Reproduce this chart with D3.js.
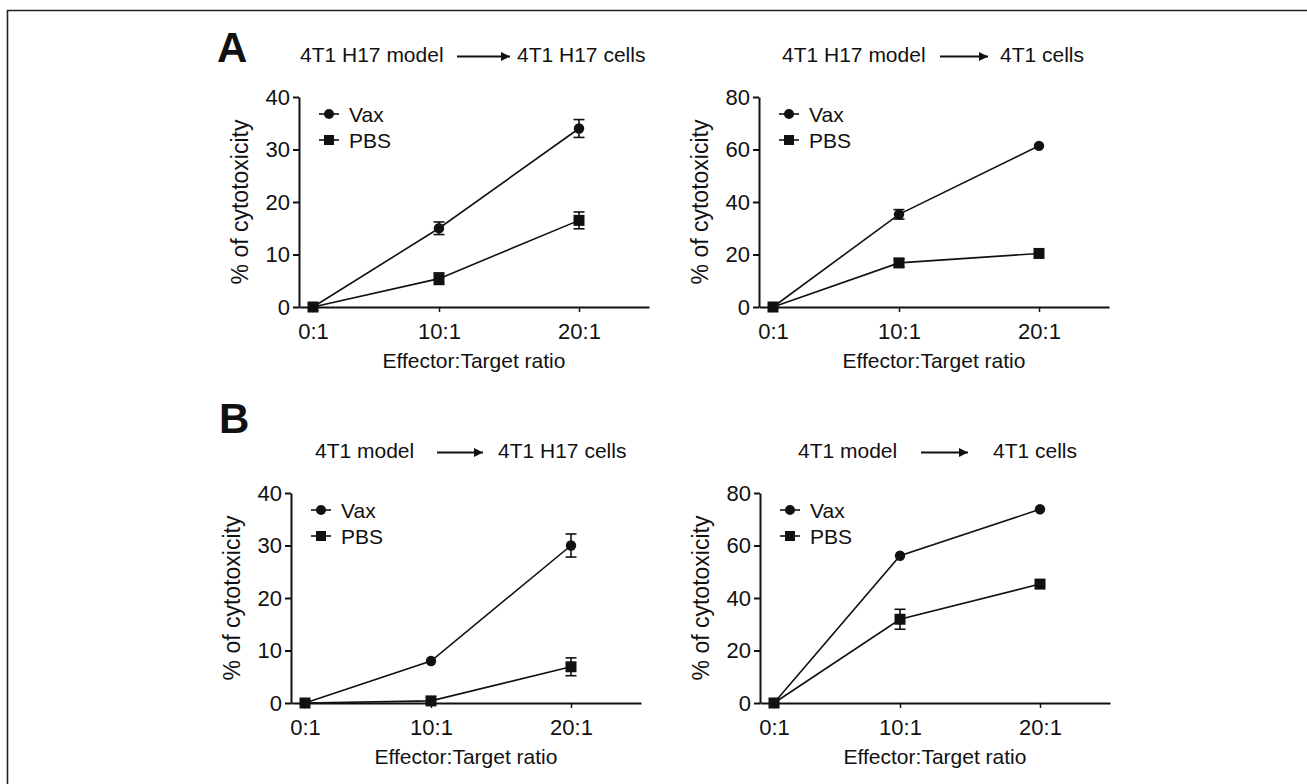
<!DOCTYPE html>
<html>
<head>
<meta charset="utf-8">
<script src="https://cdn.jsdelivr.net/npm/d3@7"></script>
<style>
  body { margin: 0; background: #fff; }
  text { font-family: "Liberation Sans", Arial, sans-serif; fill: #111; }
</style>
</head>
<body>
<div id="vis"></div>
<script>
// values
const ratioLabels = ['0:1', '10:1', '20:1'];
const ratioValues = [1, 10, 20];
const seriesNames = ['Vax', 'PBS'];
const modelNames = ['4T1 H17 model', '4T1 H17 model', '4T1 model', '4T1 model'];
const cellNames = ['4T1 H17 cells', '4T1 cells', '4T1 H17 cells', '4T1 cells'];
const yTicks40 = [0, 10, 20, 30, 40];
const yTicks80 = [0, 20, 40, 60, 80];

const vaxMean = [[0, 15.0, 34.0], [0, 35.3, 61.4], [0, 8.0, 30.0], [0, 56.1, 73.8]];
const vaxErr  = [[0, 1.2, 1.7],   [0, 1.8, 0],     [0, 0, 2.2],   [0, 0, 0]];
const pbsMean = [[0, 5.4, 16.5],  [0, 16.8, 20.4], [0, 0.4, 6.9], [0, 31.9, 45.3]];
const pbsErr  = [[0, 1.1, 1.6],   [0, 1.6, 0],     [0, 0, 1.7],   [0, 3.8, 0]];

// layout of the four panels (axis origin, title pieces)
let layout = [
  { x0: 299, y0: 307, ticks: yTicks40, tl: 1,  a1: 158, a2: 211, tr: 218 },
  { x0: 759, y0: 307, ticks: yTicks80, tl: 23, a1: 181, a2: 229, tr: 241 },
  { x0: 291, y0: 703, ticks: yTicks40, tl: 24, a1: 146, a2: 192, tr: 207 },
  { x0: 760, y0: 703, ticks: yTicks80, tl: 38, a1: 161, a2: 208, tr: 233 }
];
let pw = 350, ph = 210;

let svg = d3.select('#vis')
  .append('svg')
  .attr('width', 1307)
  .attr('height', 784)
  .style('display', 'block');

// frame: top and left rules
svg.append('line').attr('x1', 7).attr('x2', 1307).attr('y1', 10.5).attr('y2', 10.5)
  .attr('stroke', '#222').attr('stroke-width', 1.6);
svg.append('line').attr('x1', 7.5).attr('x2', 7.5).attr('y1', 10).attr('y2', 784)
  .attr('stroke', '#222').attr('stroke-width', 1.6);

// panel letters
svg.append('text').attr('x', 217).attr('y', 62).text('A')
  .style('font-size', '42px').style('font-weight', 'bold');
svg.append('text').attr('x', 219).attr('y', 433).text('B')
  .style('font-size', '42px').style('font-weight', 'bold');

svg.append('defs').append('marker')
  .attr('id', 'head')
  .attr('viewBox', '0 0 10 10')
  .attr('refX', 10).attr('refY', 5)
  .attr('markerWidth', 11).attr('markerHeight', 9)
  .attr('markerUnits', 'userSpaceOnUse')
  .attr('orient', 'auto')
  .append('path').attr('d', 'M0,0L10,5L0,10Z').attr('fill', '#111');

layout.forEach(function (p, i) {
  let yMax = p.ticks[p.ticks.length - 1];
  let x = d3.scaleLinear().domain([0, 25]).range([0, pw]);
  let y = d3.scaleLinear().domain([0, yMax]).range([ph, 0]);

  let g = svg.append('g').attr('transform', 'translate(' + p.x0 + ',' + (p.y0 - ph) + ')');

  // title with arrow
  let ty = -35;
  g.append('text').attr('x', p.tl).attr('y', ty).text(modelNames[i]).style('font-size', '21px');
  g.append('line').attr('x1', p.a1).attr('x2', p.a2).attr('y1', ty - 5.5).attr('y2', ty - 5.5)
    .attr('stroke', '#111').attr('stroke-width', 1.8).attr('marker-end', 'url(#head)');
  g.append('text').attr('x', p.tr).attr('y', ty).text(cellNames[i]).style('font-size', '21px');

  // axes
  let xAxis = d3.axisBottom(x).tickValues(ratioValues)
    .tickFormat(function (d, k) { return ratioLabels[k]; })
    .tickSize(5).tickPadding(11).tickSizeOuter(0);
  let yAxis = d3.axisLeft(y).tickValues(p.ticks).tickSize(6).tickPadding(3).tickSizeOuter(0);

  let gx = g.append('g').attr('transform', 'translate(0,' + ph + ')').call(xAxis);
  let gy = g.append('g').call(yAxis);
  [gx, gy].forEach(function (a) {
    a.selectAll('path, line').attr('stroke', '#111').attr('stroke-width', 2);
    a.selectAll('text').style('font-size', '22px').attr('fill', '#111');
    a.attr('font-family', null);
  });
  gx.selectAll('.tick line').attr('stroke-width', 1.5);

  g.append('text').attr('x', pw / 2).attr('y', ph + 61).attr('text-anchor', 'middle')
    .text('Effector:Target ratio').style('font-size', '21px');
  g.append('text').attr('transform', 'translate(-51,' + (ph / 2) + ') rotate(-90)')
    .attr('text-anchor', 'middle').text('% of cytotoxicity').style('font-size', '23px');

  // series
  let series = [
    { mean: vaxMean[i], err: vaxErr[i], shape: 'circle' },
    { mean: pbsMean[i], err: pbsErr[i], shape: 'square' }
  ];
  let line = d3.line().x(function (d) { return x(d.x); }).y(function (d) { return y(d.v); });

  series.forEach(function (s) {
    let pts = ratioValues.map(function (r, k) { return { x: r, v: s.mean[k], e: s.err[k] }; });
    g.append('path').datum(pts).attr('d', line)
      .attr('fill', 'none').attr('stroke', '#111').attr('stroke-width', 1.6);

    let eb = g.selectAll(null).data(pts.filter(function (d) { return d.e > 0; })).enter().append('g');
    eb.append('line')
      .attr('x1', function (d) { return x(d.x); }).attr('x2', function (d) { return x(d.x); })
      .attr('y1', function (d) { return y(d.v + d.e); }).attr('y2', function (d) { return y(d.v - d.e); })
      .attr('stroke', '#111').attr('stroke-width', 1.6);
    [1, -1].forEach(function (sgn) {
      eb.append('line')
        .attr('x1', function (d) { return x(d.x) - 5.5; }).attr('x2', function (d) { return x(d.x) + 5.5; })
        .attr('y1', function (d) { return y(d.v + sgn * d.e); }).attr('y2', function (d) { return y(d.v + sgn * d.e); })
        .attr('stroke', '#111').attr('stroke-width', 1.6);
    });

    if (s.shape === 'circle') {
      g.selectAll(null).data(pts).enter().append('circle')
        .attr('cx', function (d) { return x(d.x); }).attr('cy', function (d) { return y(d.v); })
        .attr('r', 5.2).attr('fill', '#111');
    } else {
      g.selectAll(null).data(pts).enter().append('rect')
        .attr('x', function (d) { return x(d.x) - 5.5; }).attr('y', function (d) { return y(d.v) - 5.5; })
        .attr('width', 11).attr('height', 11).attr('fill', '#111');
    }
  });

  // legend
  let lg = g.append('g').attr('transform', 'translate(30,' + (ph - 193) + ')');
  seriesNames.forEach(function (name, k) {
    let row = lg.append('g').attr('transform', 'translate(0,' + (k * 26) + ')');
    row.append('line').attr('x1', -10).attr('x2', 10).attr('stroke', '#111').attr('stroke-width', 1.6);
    if (k === 0) row.append('circle').attr('r', 5).attr('fill', '#111');
    else row.append('rect').attr('x', -5).attr('y', -5).attr('width', 10).attr('height', 10).attr('fill', '#111');
    row.append('text').attr('x', 20).attr('y', 7.5).text(name).style('font-size', '21px');
  });
});
</script>
</body>
</html>
